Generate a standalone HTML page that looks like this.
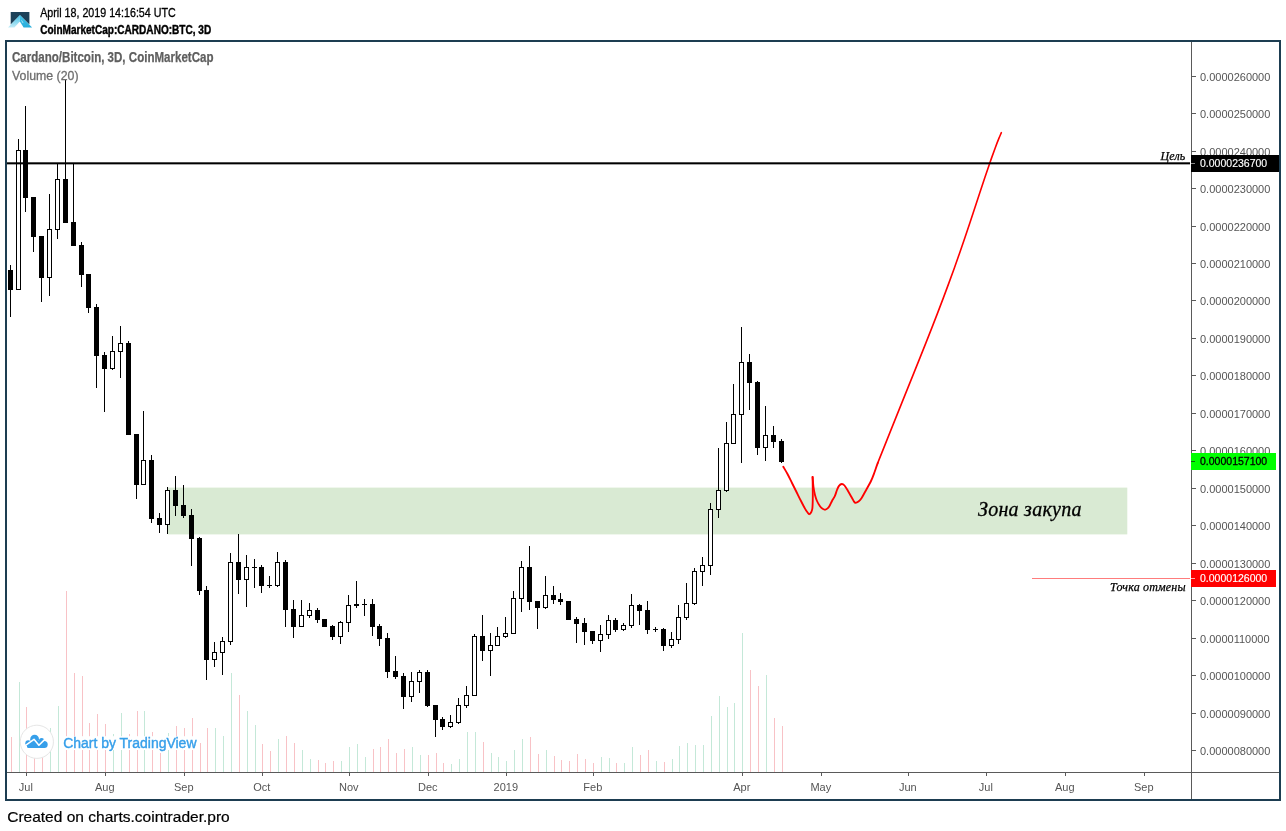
<!DOCTYPE html>
<html lang="en"><head><meta charset="utf-8"><title>Cardano/Bitcoin, 3D, CoinMarketCap</title>
<style>html,body{margin:0;padding:0;background:#fff;overflow:hidden}svg{display:block}text{font-family:"Liberation Sans",sans-serif}.ser{font-family:"Liberation Serif",serif;font-style:italic}.ax{font-size:11px;fill:#555}.ce{shape-rendering:crispEdges}</style></head><body>
<svg width="1286" height="831" viewBox="0 0 1286 831">
<rect width="1286" height="831" fill="#fff"/>
<defs><linearGradient id="lg1" x1="0" y1="0" x2="0" y2="1"><stop offset="0" stop-color="#3fbfe6"/><stop offset="1" stop-color="#c4ecf7"/></linearGradient><linearGradient id="lg2" x1="0" y1="0" x2="0" y2="1"><stop offset="0" stop-color="#45c3e8"/><stop offset="1" stop-color="#27addb"/></linearGradient></defs>
<g id="logo">
<path d="M10.7 11.9H29.4V24.6L20 15.2L10.7 24.6Z" fill="#1c4159"/>
<path d="M19.9 14.9L8 27.6H14.4L19.9 21.4Z" fill="url(#lg1)"/>
<path d="M19.9 14.9L32.1 27.6H23.6L19.9 21.4Z" fill="url(#lg2)"/>
<path d="M21.2 19.4L23.6 23.1L22.7 23L21.5 20.9Z" fill="#c9eef9" opacity="0.9"/>
</g>
<text x="40.2" y="17" font-size="12" fill="#000" stroke="#000" stroke-width="0.3" textLength="135.5" lengthAdjust="spacingAndGlyphs">April 18, 2019 14:16:54 UTC</text>
<text x="40.2" y="33.6" font-size="12" font-weight="bold" fill="#000" stroke="#000" stroke-width="0.4" textLength="171" lengthAdjust="spacingAndGlyphs">CoinMarketCap:CARDANO:BTC, 3D</text>
<rect x="6" y="41" width="1274" height="759" fill="#fff" stroke="#1d3d51" stroke-width="2" class="ce"/>
<rect x="167.7" y="487.6" width="959.6" height="46.8" fill="#d9ead3"/>
<g class="ce" id="vol">
<rect x="11" y="737" width="1" height="35" fill="#f8c2c6"/>
<rect x="19" y="682" width="1" height="90" fill="#c4e8d8"/>
<rect x="26" y="707" width="1" height="65" fill="#f8c2c6"/>
<rect x="34" y="740" width="1" height="32" fill="#f8c2c6"/>
<rect x="42" y="745" width="1" height="27" fill="#f8c2c6"/>
<rect x="50" y="728" width="1" height="44" fill="#c4e8d8"/>
<rect x="58" y="706" width="1" height="66" fill="#c4e8d8"/>
<rect x="66" y="591" width="1" height="181" fill="#f8c2c6"/>
<rect x="74" y="673" width="1" height="99" fill="#f8c2c6"/>
<rect x="82" y="676" width="1" height="96" fill="#f8c2c6"/>
<rect x="89" y="723" width="1" height="49" fill="#f8c2c6"/>
<rect x="97" y="714" width="1" height="58" fill="#f8c2c6"/>
<rect x="105" y="724" width="1" height="48" fill="#f8c2c6"/>
<rect x="113" y="734" width="1" height="38" fill="#c4e8d8"/>
<rect x="121" y="713" width="1" height="59" fill="#c4e8d8"/>
<rect x="129" y="734" width="1" height="38" fill="#f8c2c6"/>
<rect x="137" y="711" width="1" height="61" fill="#f8c2c6"/>
<rect x="144" y="711" width="1" height="61" fill="#c4e8d8"/>
<rect x="152" y="732" width="1" height="40" fill="#f8c2c6"/>
<rect x="160" y="753" width="1" height="19" fill="#f8c2c6"/>
<rect x="168" y="733" width="1" height="39" fill="#c4e8d8"/>
<rect x="176" y="726" width="1" height="46" fill="#f8c2c6"/>
<rect x="184" y="728" width="1" height="44" fill="#f8c2c6"/>
<rect x="192" y="718" width="1" height="54" fill="#f8c2c6"/>
<rect x="200" y="743" width="1" height="29" fill="#f8c2c6"/>
<rect x="207" y="728" width="1" height="44" fill="#f8c2c6"/>
<rect x="215" y="728" width="1" height="44" fill="#c4e8d8"/>
<rect x="223" y="736" width="1" height="36" fill="#c4e8d8"/>
<rect x="231" y="673" width="1" height="99" fill="#c4e8d8"/>
<rect x="239" y="695" width="1" height="77" fill="#f8c2c6"/>
<rect x="247" y="711" width="1" height="61" fill="#c4e8d8"/>
<rect x="255" y="725" width="1" height="47" fill="#c4e8d8"/>
<rect x="262" y="744" width="1" height="28" fill="#f8c2c6"/>
<rect x="270" y="751" width="1" height="21" fill="#f8c2c6"/>
<rect x="278" y="739" width="1" height="33" fill="#c4e8d8"/>
<rect x="286" y="736" width="1" height="36" fill="#f8c2c6"/>
<rect x="294" y="743" width="1" height="29" fill="#f8c2c6"/>
<rect x="302" y="750" width="1" height="22" fill="#c4e8d8"/>
<rect x="310" y="759" width="1" height="13" fill="#c4e8d8"/>
<rect x="318" y="760" width="1" height="12" fill="#f8c2c6"/>
<rect x="325" y="763" width="1" height="9" fill="#f8c2c6"/>
<rect x="333" y="761" width="1" height="11" fill="#f8c2c6"/>
<rect x="341" y="761" width="1" height="11" fill="#c4e8d8"/>
<rect x="349" y="747" width="1" height="25" fill="#c4e8d8"/>
<rect x="357" y="744" width="1" height="28" fill="#c4e8d8"/>
<rect x="365" y="757" width="1" height="15" fill="#c4e8d8"/>
<rect x="373" y="749" width="1" height="23" fill="#f8c2c6"/>
<rect x="380" y="747" width="1" height="25" fill="#f8c2c6"/>
<rect x="388" y="739" width="1" height="33" fill="#f8c2c6"/>
<rect x="396" y="753" width="1" height="19" fill="#f8c2c6"/>
<rect x="404" y="749" width="1" height="23" fill="#f8c2c6"/>
<rect x="412" y="747" width="1" height="25" fill="#c4e8d8"/>
<rect x="420" y="755" width="1" height="17" fill="#c4e8d8"/>
<rect x="428" y="755" width="1" height="17" fill="#f8c2c6"/>
<rect x="436" y="753" width="1" height="19" fill="#f8c2c6"/>
<rect x="443" y="763" width="1" height="9" fill="#f8c2c6"/>
<rect x="451" y="764" width="1" height="8" fill="#c4e8d8"/>
<rect x="459" y="759" width="1" height="13" fill="#c4e8d8"/>
<rect x="467" y="732" width="1" height="40" fill="#c4e8d8"/>
<rect x="475" y="732" width="1" height="40" fill="#c4e8d8"/>
<rect x="483" y="742" width="1" height="30" fill="#f8c2c6"/>
<rect x="491" y="753" width="1" height="19" fill="#c4e8d8"/>
<rect x="498" y="757" width="1" height="15" fill="#c4e8d8"/>
<rect x="506" y="761" width="1" height="11" fill="#c4e8d8"/>
<rect x="514" y="750" width="1" height="22" fill="#c4e8d8"/>
<rect x="522" y="739" width="1" height="33" fill="#c4e8d8"/>
<rect x="530" y="737" width="1" height="35" fill="#f8c2c6"/>
<rect x="538" y="754" width="1" height="18" fill="#f8c2c6"/>
<rect x="546" y="750" width="1" height="22" fill="#c4e8d8"/>
<rect x="554" y="756" width="1" height="16" fill="#f8c2c6"/>
<rect x="561" y="760" width="1" height="12" fill="#f8c2c6"/>
<rect x="569" y="761" width="1" height="11" fill="#f8c2c6"/>
<rect x="577" y="754" width="1" height="18" fill="#f8c2c6"/>
<rect x="585" y="759" width="1" height="13" fill="#f8c2c6"/>
<rect x="593" y="763" width="1" height="9" fill="#f8c2c6"/>
<rect x="601" y="757" width="1" height="15" fill="#c4e8d8"/>
<rect x="609" y="758" width="1" height="14" fill="#c4e8d8"/>
<rect x="616" y="763" width="1" height="9" fill="#f8c2c6"/>
<rect x="624" y="763" width="1" height="9" fill="#c4e8d8"/>
<rect x="632" y="747" width="1" height="25" fill="#c4e8d8"/>
<rect x="640" y="755" width="1" height="17" fill="#f8c2c6"/>
<rect x="648" y="750" width="1" height="22" fill="#f8c2c6"/>
<rect x="656" y="761" width="1" height="11" fill="#c4e8d8"/>
<rect x="664" y="762" width="1" height="10" fill="#f8c2c6"/>
<rect x="672" y="759" width="1" height="13" fill="#c4e8d8"/>
<rect x="679" y="746" width="1" height="26" fill="#c4e8d8"/>
<rect x="687" y="743" width="1" height="29" fill="#c4e8d8"/>
<rect x="695" y="745" width="1" height="27" fill="#c4e8d8"/>
<rect x="703" y="745" width="1" height="27" fill="#c4e8d8"/>
<rect x="711" y="716" width="1" height="56" fill="#c4e8d8"/>
<rect x="719" y="696" width="1" height="76" fill="#c4e8d8"/>
<rect x="727" y="707" width="1" height="65" fill="#c4e8d8"/>
<rect x="734" y="703" width="1" height="69" fill="#c4e8d8"/>
<rect x="742" y="633" width="1" height="139" fill="#c4e8d8"/>
<rect x="750" y="670" width="1" height="102" fill="#f8c2c6"/>
<rect x="758" y="686" width="1" height="86" fill="#f8c2c6"/>
<rect x="766" y="675" width="1" height="97" fill="#c4e8d8"/>
<rect x="774" y="718" width="1" height="54" fill="#f8c2c6"/>
<rect x="782" y="726" width="1" height="46" fill="#f8c2c6"/>
</g>
<g id="tv">
<circle cx="36.85" cy="741.8" r="16.6" fill="#fff" stroke="#e6e6e6" stroke-width="1"/>
<g fill="#369fea"><circle cx="34.6" cy="739.2" r="4.4"/><circle cx="28.2" cy="743.2" r="2.9"/><circle cx="41.6" cy="740.6" r="2.6"/><circle cx="44.2" cy="744.4" r="3.5"/><rect x="27" y="741" width="18" height="6.9" rx="1.5"/></g>
<path d="M25.2 745.6L34 739.3L38.9 745.3L44.6 739.6" fill="none" stroke="#fff" stroke-width="1.5" stroke-linejoin="round"/>
<rect x="62" y="736.2" width="136" height="13.8" fill="#fff"/>
<text x="63.2" y="748" font-size="14" fill="#369fea" stroke="#369fea" stroke-width="0.4" textLength="133.3" lengthAdjust="spacingAndGlyphs">Chart by TradingView</text>
</g>
<g class="ce" id="candles" fill="#000">
<rect x="10" y="265" width="1" height="52"/>
<rect x="8" y="270" width="5" height="20"/>
<rect x="18" y="139" width="1" height="11"/>
<rect x="16.5" y="150.5" width="4" height="139" fill="#fff" stroke="#000" stroke-width="1"/>
<rect x="25" y="106" width="1" height="106"/>
<rect x="23" y="150" width="5" height="48"/>
<rect x="33" y="197" width="1" height="55"/>
<rect x="31" y="197" width="5" height="40"/>
<rect x="41" y="236" width="1" height="66"/>
<rect x="39" y="236" width="5" height="42"/>
<rect x="49" y="194" width="1" height="35"/>
<rect x="49" y="278" width="1" height="18"/>
<rect x="47.5" y="229.5" width="4" height="48" fill="#fff" stroke="#000" stroke-width="1"/>
<rect x="57" y="163" width="1" height="16"/>
<rect x="57" y="230" width="1" height="9"/>
<rect x="55.5" y="179.5" width="4" height="50" fill="#fff" stroke="#000" stroke-width="1"/>
<rect x="65" y="79" width="1" height="144"/>
<rect x="63" y="179" width="5" height="44"/>
<rect x="73" y="163" width="1" height="83"/>
<rect x="71" y="222" width="5" height="24"/>
<rect x="81" y="242" width="1" height="45"/>
<rect x="79" y="245" width="5" height="30"/>
<rect x="88" y="274" width="1" height="39"/>
<rect x="86" y="274" width="5" height="34"/>
<rect x="96" y="304" width="1" height="84"/>
<rect x="94" y="307" width="5" height="49"/>
<rect x="104" y="352" width="1" height="60"/>
<rect x="102" y="355" width="5" height="14"/>
<rect x="112" y="336" width="1" height="15"/>
<rect x="112" y="369" width="1" height="1"/>
<rect x="110.5" y="351.5" width="4" height="17" fill="#fff" stroke="#000" stroke-width="1"/>
<rect x="120" y="326" width="1" height="17"/>
<rect x="120" y="352" width="1" height="26"/>
<rect x="118.5" y="343.5" width="4" height="8" fill="#fff" stroke="#000" stroke-width="1"/>
<rect x="128" y="341" width="1" height="94"/>
<rect x="126" y="343" width="5" height="92"/>
<rect x="136" y="434" width="1" height="65"/>
<rect x="134" y="434" width="5" height="51"/>
<rect x="143" y="411" width="1" height="49"/>
<rect x="141.5" y="460.5" width="4" height="24" fill="#fff" stroke="#000" stroke-width="1"/>
<rect x="151" y="455" width="1" height="68"/>
<rect x="149" y="460" width="5" height="59"/>
<rect x="159" y="513" width="1" height="20"/>
<rect x="157" y="518" width="5" height="7"/>
<rect x="167" y="487" width="1" height="3"/>
<rect x="167" y="525" width="1" height="9"/>
<rect x="165.5" y="490.5" width="4" height="34" fill="#fff" stroke="#000" stroke-width="1"/>
<rect x="175" y="476" width="1" height="40"/>
<rect x="173" y="490" width="5" height="16"/>
<rect x="183" y="485" width="1" height="33"/>
<rect x="181" y="505" width="5" height="11"/>
<rect x="191" y="509" width="1" height="57"/>
<rect x="189" y="515" width="5" height="24"/>
<rect x="199" y="537" width="1" height="58"/>
<rect x="197" y="538" width="5" height="53"/>
<rect x="206" y="586" width="1" height="94"/>
<rect x="204" y="590" width="5" height="70"/>
<rect x="214" y="642" width="1" height="10"/>
<rect x="214" y="660" width="1" height="7"/>
<rect x="212.5" y="652.5" width="4" height="7" fill="#fff" stroke="#000" stroke-width="1"/>
<rect x="222" y="637" width="1" height="4"/>
<rect x="222" y="653" width="1" height="22"/>
<rect x="220.5" y="641.5" width="4" height="11" fill="#fff" stroke="#000" stroke-width="1"/>
<rect x="230" y="553" width="1" height="9"/>
<rect x="230" y="642" width="1" height="3"/>
<rect x="228.5" y="562.5" width="4" height="79" fill="#fff" stroke="#000" stroke-width="1"/>
<rect x="238" y="534" width="1" height="60"/>
<rect x="236" y="562" width="5" height="18"/>
<rect x="246" y="555" width="1" height="12"/>
<rect x="246" y="580" width="1" height="27"/>
<rect x="244.5" y="567.5" width="4" height="12" fill="#fff" stroke="#000" stroke-width="1"/>
<rect x="254" y="559" width="1" height="29"/>
<rect x="252" y="567" width="5" height="1"/>
<rect x="261" y="565" width="1" height="28"/>
<rect x="259" y="567" width="5" height="19"/>
<rect x="269" y="576" width="1" height="12"/>
<rect x="267" y="585" width="5" height="1"/>
<rect x="277" y="552" width="1" height="10"/>
<rect x="277" y="586" width="1" height="1"/>
<rect x="275.5" y="562.5" width="4" height="23" fill="#fff" stroke="#000" stroke-width="1"/>
<rect x="285" y="560" width="1" height="67"/>
<rect x="283" y="562" width="5" height="48"/>
<rect x="293" y="600" width="1" height="38"/>
<rect x="291" y="609" width="5" height="18"/>
<rect x="301" y="600" width="1" height="15"/>
<rect x="299.5" y="615.5" width="4" height="11" fill="#fff" stroke="#000" stroke-width="1"/>
<rect x="309" y="603" width="1" height="7"/>
<rect x="309" y="616" width="1" height="2"/>
<rect x="307.5" y="610.5" width="4" height="5" fill="#fff" stroke="#000" stroke-width="1"/>
<rect x="317" y="608" width="1" height="15"/>
<rect x="315" y="610" width="5" height="10"/>
<rect x="322" y="619" width="5" height="8"/>
<rect x="332" y="625" width="1" height="15"/>
<rect x="330" y="626" width="5" height="11"/>
<rect x="340" y="621" width="1" height="1"/>
<rect x="340" y="637" width="1" height="7"/>
<rect x="338.5" y="622.5" width="4" height="14" fill="#fff" stroke="#000" stroke-width="1"/>
<rect x="348" y="595" width="1" height="10"/>
<rect x="348" y="623" width="1" height="9"/>
<rect x="346.5" y="605.5" width="4" height="17" fill="#fff" stroke="#000" stroke-width="1"/>
<rect x="356" y="581" width="1" height="27"/>
<rect x="354" y="604" width="5" height="2"/>
<rect x="364" y="599" width="1" height="17"/>
<rect x="362" y="604" width="5" height="1"/>
<rect x="372" y="599" width="1" height="37"/>
<rect x="370" y="604" width="5" height="23"/>
<rect x="379" y="624" width="1" height="22"/>
<rect x="377" y="626" width="5" height="13"/>
<rect x="387" y="633" width="1" height="45"/>
<rect x="385" y="638" width="5" height="34"/>
<rect x="395" y="656" width="1" height="23"/>
<rect x="393" y="671" width="5" height="6"/>
<rect x="403" y="673" width="1" height="36"/>
<rect x="401" y="676" width="5" height="21"/>
<rect x="411" y="672" width="1" height="9"/>
<rect x="411" y="697" width="1" height="5"/>
<rect x="409.5" y="681.5" width="4" height="15" fill="#fff" stroke="#000" stroke-width="1"/>
<rect x="419" y="670" width="1" height="2"/>
<rect x="419" y="682" width="1" height="11"/>
<rect x="417.5" y="672.5" width="4" height="9" fill="#fff" stroke="#000" stroke-width="1"/>
<rect x="427" y="670" width="1" height="37"/>
<rect x="425" y="672" width="5" height="34"/>
<rect x="435" y="705" width="1" height="32"/>
<rect x="433" y="705" width="5" height="15"/>
<rect x="442" y="717" width="1" height="13"/>
<rect x="440" y="719" width="5" height="8"/>
<rect x="450" y="715" width="1" height="7"/>
<rect x="450" y="727" width="1" height="1"/>
<rect x="448.5" y="722.5" width="4" height="4" fill="#fff" stroke="#000" stroke-width="1"/>
<rect x="458" y="698" width="1" height="7"/>
<rect x="458" y="723" width="1" height="1"/>
<rect x="456.5" y="705.5" width="4" height="17" fill="#fff" stroke="#000" stroke-width="1"/>
<rect x="466" y="686" width="1" height="9"/>
<rect x="466" y="706" width="1" height="2"/>
<rect x="464.5" y="695.5" width="4" height="10" fill="#fff" stroke="#000" stroke-width="1"/>
<rect x="474" y="634" width="1" height="2"/>
<rect x="472.5" y="636.5" width="4" height="59" fill="#fff" stroke="#000" stroke-width="1"/>
<rect x="482" y="615" width="1" height="46"/>
<rect x="480" y="636" width="5" height="15"/>
<rect x="490" y="633" width="1" height="12"/>
<rect x="490" y="651" width="1" height="25"/>
<rect x="488.5" y="645.5" width="4" height="5" fill="#fff" stroke="#000" stroke-width="1"/>
<rect x="497" y="627" width="1" height="9"/>
<rect x="495.5" y="636.5" width="4" height="9" fill="#fff" stroke="#000" stroke-width="1"/>
<rect x="505" y="617" width="1" height="16"/>
<rect x="505" y="637" width="1" height="1"/>
<rect x="503.5" y="633.5" width="4" height="3" fill="#fff" stroke="#000" stroke-width="1"/>
<rect x="513" y="591" width="1" height="7"/>
<rect x="511.5" y="598.5" width="4" height="35" fill="#fff" stroke="#000" stroke-width="1"/>
<rect x="521" y="561" width="1" height="6"/>
<rect x="521" y="599" width="1" height="13"/>
<rect x="519.5" y="567.5" width="4" height="31" fill="#fff" stroke="#000" stroke-width="1"/>
<rect x="529" y="546" width="1" height="64"/>
<rect x="527" y="567" width="5" height="35"/>
<rect x="537" y="601" width="1" height="28"/>
<rect x="535" y="601" width="5" height="7"/>
<rect x="545" y="576" width="1" height="19"/>
<rect x="545" y="608" width="1" height="1"/>
<rect x="543.5" y="595.5" width="4" height="12" fill="#fff" stroke="#000" stroke-width="1"/>
<rect x="553" y="586" width="1" height="18"/>
<rect x="551" y="595" width="5" height="5"/>
<rect x="560" y="593" width="1" height="12"/>
<rect x="558" y="599" width="5" height="3"/>
<rect x="566" y="601" width="5" height="19"/>
<rect x="576" y="617" width="1" height="26"/>
<rect x="574" y="619" width="5" height="5"/>
<rect x="584" y="618" width="1" height="27"/>
<rect x="582" y="623" width="5" height="9"/>
<rect x="592" y="631" width="1" height="13"/>
<rect x="590" y="631" width="5" height="10"/>
<rect x="600" y="625" width="1" height="9"/>
<rect x="600" y="641" width="1" height="11"/>
<rect x="598.5" y="634.5" width="4" height="6" fill="#fff" stroke="#000" stroke-width="1"/>
<rect x="608" y="615" width="1" height="5"/>
<rect x="608" y="635" width="1" height="4"/>
<rect x="606.5" y="620.5" width="4" height="14" fill="#fff" stroke="#000" stroke-width="1"/>
<rect x="615" y="618" width="1" height="14"/>
<rect x="613" y="620" width="5" height="10"/>
<rect x="623" y="623" width="1" height="2"/>
<rect x="623" y="630" width="1" height="1"/>
<rect x="621.5" y="625.5" width="4" height="4" fill="#fff" stroke="#000" stroke-width="1"/>
<rect x="631" y="594" width="1" height="11"/>
<rect x="631" y="626" width="1" height="2"/>
<rect x="629.5" y="605.5" width="4" height="20" fill="#fff" stroke="#000" stroke-width="1"/>
<rect x="639" y="604" width="1" height="21"/>
<rect x="637" y="605" width="5" height="6"/>
<rect x="647" y="601" width="1" height="33"/>
<rect x="645" y="610" width="5" height="20"/>
<rect x="655" y="627" width="1" height="5"/>
<rect x="653" y="629" width="5" height="1"/>
<rect x="663" y="628" width="1" height="23"/>
<rect x="661" y="629" width="5" height="17"/>
<rect x="671" y="632" width="1" height="7"/>
<rect x="671" y="646" width="1" height="2"/>
<rect x="669.5" y="639.5" width="4" height="6" fill="#fff" stroke="#000" stroke-width="1"/>
<rect x="678" y="605" width="1" height="12"/>
<rect x="678" y="640" width="1" height="4"/>
<rect x="676.5" y="617.5" width="4" height="22" fill="#fff" stroke="#000" stroke-width="1"/>
<rect x="686" y="583" width="1" height="20"/>
<rect x="686" y="618" width="1" height="2"/>
<rect x="684.5" y="603.5" width="4" height="14" fill="#fff" stroke="#000" stroke-width="1"/>
<rect x="694" y="568" width="1" height="3"/>
<rect x="694" y="604" width="1" height="1"/>
<rect x="692.5" y="571.5" width="4" height="32" fill="#fff" stroke="#000" stroke-width="1"/>
<rect x="702" y="557" width="1" height="8"/>
<rect x="702" y="572" width="1" height="14"/>
<rect x="700.5" y="565.5" width="4" height="6" fill="#fff" stroke="#000" stroke-width="1"/>
<rect x="710" y="503" width="1" height="6"/>
<rect x="710" y="566" width="1" height="9"/>
<rect x="708.5" y="509.5" width="4" height="56" fill="#fff" stroke="#000" stroke-width="1"/>
<rect x="718" y="448" width="1" height="42"/>
<rect x="718" y="510" width="1" height="8"/>
<rect x="716.5" y="490.5" width="4" height="19" fill="#fff" stroke="#000" stroke-width="1"/>
<rect x="726" y="422" width="1" height="21"/>
<rect x="726" y="491" width="1" height="1"/>
<rect x="724.5" y="443.5" width="4" height="47" fill="#fff" stroke="#000" stroke-width="1"/>
<rect x="733" y="384" width="1" height="30"/>
<rect x="731.5" y="414.5" width="4" height="29" fill="#fff" stroke="#000" stroke-width="1"/>
<rect x="741" y="327" width="1" height="35"/>
<rect x="741" y="415" width="1" height="48"/>
<rect x="739.5" y="362.5" width="4" height="52" fill="#fff" stroke="#000" stroke-width="1"/>
<rect x="749" y="354" width="1" height="56"/>
<rect x="747" y="362" width="5" height="21"/>
<rect x="757" y="381" width="1" height="74"/>
<rect x="755" y="382" width="5" height="66"/>
<rect x="765" y="406" width="1" height="29"/>
<rect x="765" y="448" width="1" height="13"/>
<rect x="763.5" y="435.5" width="4" height="12" fill="#fff" stroke="#000" stroke-width="1"/>
<rect x="773" y="426" width="1" height="22"/>
<rect x="771" y="435" width="5" height="7"/>
<rect x="781" y="439" width="1" height="24"/>
<rect x="779" y="441" width="5" height="21"/>
</g>
<text x="12" y="62.1" font-size="13.8" font-weight="bold" fill="#5f5f5f" stroke="#5f5f5f" stroke-width="0.25" textLength="201.5" lengthAdjust="spacingAndGlyphs">Cardano/Bitcoin, 3D, CoinMarketCap</text>
<text x="12" y="79.6" font-size="13" fill="#6e6e6e" stroke="#6e6e6e" stroke-width="0.3" textLength="66.5" lengthAdjust="spacingAndGlyphs">Volume (20)</text>
<text class="ser" x="1160.6" y="160" font-size="12" fill="#000" stroke="#000" stroke-width="0.25" textLength="24.6" lengthAdjust="spacing">Цель</text>
<rect x="1032" y="578" width="158" height="1" fill="#ff7c7c" class="ce"/>
<text class="ser" x="1110" y="591" font-size="12" fill="#000" stroke="#000" stroke-width="0.25" textLength="75.6" lengthAdjust="spacing">Точка отмены</text>
<text class="ser" x="978" y="516" font-size="20" fill="#000" stroke="#000" stroke-width="0.3" textLength="103.4" lengthAdjust="spacing">Зона закупа</text>
<g class="ce" fill="#5a5a5a">
<rect x="1191" y="42" width="1" height="757"/>
<rect x="7" y="772" width="1272" height="1"/>
<rect x="1192" y="76" width="4" height="1"/>
<rect x="1192" y="113" width="4" height="1"/>
<rect x="1192" y="151" width="4" height="1"/>
<rect x="1192" y="188" width="4" height="1"/>
<rect x="1192" y="226" width="4" height="1"/>
<rect x="1192" y="263" width="4" height="1"/>
<rect x="1192" y="300" width="4" height="1"/>
<rect x="1192" y="338" width="4" height="1"/>
<rect x="1192" y="375" width="4" height="1"/>
<rect x="1192" y="413" width="4" height="1"/>
<rect x="1192" y="450" width="4" height="1"/>
<rect x="1192" y="488" width="4" height="1"/>
<rect x="1192" y="525" width="4" height="1"/>
<rect x="1192" y="563" width="4" height="1"/>
<rect x="1192" y="600" width="4" height="1"/>
<rect x="1192" y="638" width="4" height="1"/>
<rect x="1192" y="675" width="4" height="1"/>
<rect x="1192" y="713" width="4" height="1"/>
<rect x="1192" y="750" width="4" height="1"/>
<rect x="26" y="773" width="1" height="3"/>
<rect x="105" y="773" width="1" height="3"/>
<rect x="184" y="773" width="1" height="3"/>
<rect x="262" y="773" width="1" height="3"/>
<rect x="349" y="773" width="1" height="3"/>
<rect x="428" y="773" width="1" height="3"/>
<rect x="506" y="773" width="1" height="3"/>
<rect x="593" y="773" width="1" height="3"/>
<rect x="742" y="773" width="1" height="3"/>
<rect x="821" y="773" width="1" height="3"/>
<rect x="908" y="773" width="1" height="3"/>
<rect x="986" y="773" width="1" height="3"/>
<rect x="1065" y="773" width="1" height="3"/>
<rect x="1144" y="773" width="1" height="3"/>
</g>
<g class="ax">
<text x="1200" y="80.8">0.0000260000</text>
<text x="1200" y="117.8">0.0000250000</text>
<text x="1200" y="155.8">0.0000240000</text>
<text x="1200" y="192.8">0.0000230000</text>
<text x="1200" y="230.8">0.0000220000</text>
<text x="1200" y="267.8">0.0000210000</text>
<text x="1200" y="304.8">0.0000200000</text>
<text x="1200" y="342.8">0.0000190000</text>
<text x="1200" y="379.8">0.0000180000</text>
<text x="1200" y="417.8">0.0000170000</text>
<text x="1200" y="454.8">0.0000160000</text>
<text x="1200" y="492.8">0.0000150000</text>
<text x="1200" y="529.8">0.0000140000</text>
<text x="1200" y="567.8">0.0000130000</text>
<text x="1200" y="604.8">0.0000120000</text>
<text x="1200" y="642.8">0.0000110000</text>
<text x="1200" y="679.8">0.0000100000</text>
<text x="1200" y="717.8">0.0000090000</text>
<text x="1200" y="754.8">0.0000080000</text>
<text x="25.8" y="791" text-anchor="middle">Jul</text>
<text x="104.8" y="791" text-anchor="middle">Aug</text>
<text x="183.8" y="791" text-anchor="middle">Sep</text>
<text x="261.8" y="791" text-anchor="middle">Oct</text>
<text x="348.8" y="791" text-anchor="middle">Nov</text>
<text x="427.8" y="791" text-anchor="middle">Dec</text>
<text x="505.8" y="791" text-anchor="middle">2019</text>
<text x="592.8" y="791" text-anchor="middle">Feb</text>
<text x="741.8" y="791" text-anchor="middle">Apr</text>
<text x="820.8" y="791" text-anchor="middle">May</text>
<text x="907.8" y="791" text-anchor="middle">Jun</text>
<text x="985.8" y="791" text-anchor="middle">Jul</text>
<text x="1064.8" y="791" text-anchor="middle">Aug</text>
<text x="1143.8" y="791" text-anchor="middle">Sep</text>
</g>
<g class="ce">
<rect x="1191" y="155" width="88" height="17" fill="#000"/><rect x="1191" y="163" width="4" height="1" fill="#888"/>
<rect x="1191" y="453" width="85" height="17" fill="#00ff00"/><rect x="1191" y="461" width="4" height="1" fill="#0a6a0a"/>
<rect x="1191" y="570" width="85" height="17" fill="#ff0000"/><rect x="1191" y="578" width="4" height="1" fill="#ffb0b0"/>
</g>
<text x="1200" y="166.7" font-size="11" fill="#fff" stroke="#fff" stroke-width="0.15" textLength="67.2" lengthAdjust="spacingAndGlyphs">0.0000236700</text>
<text x="1200" y="464.7" font-size="11" fill="#000" stroke="#000" stroke-width="0.3" textLength="67.2" lengthAdjust="spacingAndGlyphs">0.0000157100</text>
<text x="1200" y="581.7" font-size="11" fill="#fff" stroke="#fff" stroke-width="0.15" textLength="67.2" lengthAdjust="spacingAndGlyphs">0.0000126000</text>
<path id="proj" fill="none" stroke="#ff0000" stroke-width="1.85" stroke-linecap="round" stroke-linejoin="round" d="M783.30 466.80 C784.00 468.00 786.05 471.30 787.50 474.00 C788.95 476.70 790.50 480.00 792.00 483.00 C793.50 486.00 795.00 489.00 796.50 492.00 C798.00 495.00 799.58 498.23 801.00 501.00 C802.42 503.77 803.93 506.73 805.00 508.60 C806.07 510.47 806.68 511.27 807.40 512.20 C808.12 513.13 808.65 514.23 809.30 514.20 C809.95 514.17 810.78 513.03 811.30 512.00 C811.82 510.97 812.15 510.67 812.40 508.00 C812.65 505.33 812.77 501.17 812.80 496.00 C812.83 490.83 812.63 480.17 812.60 477.00"/>
<path id="proj2" fill="none" stroke="#ff0000" stroke-width="1.85" stroke-linecap="round" stroke-linejoin="round" d="M812.60 477.00 C812.75 478.67 813.10 484.00 813.50 487.00 C813.90 490.00 814.42 492.67 815.00 495.00 C815.58 497.33 816.17 499.12 817.00 501.00 C817.83 502.88 819.07 505.02 820.00 506.30 C820.93 507.58 821.72 508.13 822.60 508.70 C823.48 509.27 824.47 509.75 825.30 509.70 C826.13 509.65 826.90 509.02 827.60 508.40 C828.30 507.78 828.77 507.23 829.50 506.00 C830.23 504.77 831.12 502.63 832.00 501.00 C832.88 499.37 833.97 498.03 834.80 496.20 C835.63 494.37 836.30 491.73 837.00 490.00 C837.70 488.27 838.20 486.80 839.00 485.80 C839.80 484.80 840.88 484.05 841.80 484.00 C842.72 483.95 843.47 484.33 844.50 485.50 C845.53 486.67 846.75 488.92 848.00 491.00 C849.25 493.08 851.03 496.30 852.00 498.00 C852.97 499.70 853.22 500.40 853.80 501.20 C854.38 502.00 854.72 502.75 855.50 502.80 C856.28 502.85 857.50 502.27 858.50 501.50 C859.50 500.73 860.42 499.78 861.50 498.20 C862.58 496.62 863.42 494.87 865.00 492.00 C866.58 489.13 869.40 484.33 871.00 481.00 C872.60 477.67 873.47 475.02 874.60 472.00 C875.73 468.98 876.26 466.92 877.79 462.90"/>
<path id="proj3" fill="none" stroke="#ff0000" stroke-width="1.6" stroke-linecap="round" stroke-linejoin="round" d="M877.79 462.90 C879.32 458.88 881.79 452.90 883.79 447.90 C885.79 442.90 887.78 437.90 889.78 432.90 C891.78 427.90 893.78 422.90 895.79 417.90 C897.80 412.90 899.81 407.90 901.82 402.90 C903.83 397.90 905.85 392.90 907.86 387.90 C909.88 382.90 911.90 377.90 913.91 372.90 C915.92 367.90 917.93 362.90 919.93 357.90 C921.93 352.90 923.93 347.90 925.91 342.90 C927.89 337.90 929.87 332.90 931.83 327.90 C933.79 322.90 935.73 317.90 937.65 312.90 C939.57 307.90 941.48 302.90 943.36 297.90 C945.24 292.90 947.09 287.90 948.93 282.90 C950.76 277.90 952.58 272.90 954.37 267.90 C956.16 262.90 957.91 257.90 959.65 252.90 C961.39 247.90 963.10 242.90 964.80 237.90 C966.50 232.90 968.18 227.90 969.84 222.90 C971.50 217.90 973.14 212.90 974.79 207.90 C976.44 202.90 978.07 197.90 979.72 192.90 C981.37 187.90 983.02 182.90 984.70 177.90 C986.38 172.90 988.07 167.90 989.82 162.90 C991.57 157.90 993.69 151.98 995.20 147.90 C996.71 143.82 997.88 140.93 998.90 138.40 C999.92 135.87 1000.90 133.65 1001.30 132.70"/>
<rect x="7" y="162.3" width="1183" height="2.05" fill="#000"/>
<text x="7.2" y="821.6" font-size="15" fill="#000" stroke="#000" stroke-width="0.2" textLength="222.5" lengthAdjust="spacingAndGlyphs">Created on charts.cointrader.pro</text>
</svg></body></html>
